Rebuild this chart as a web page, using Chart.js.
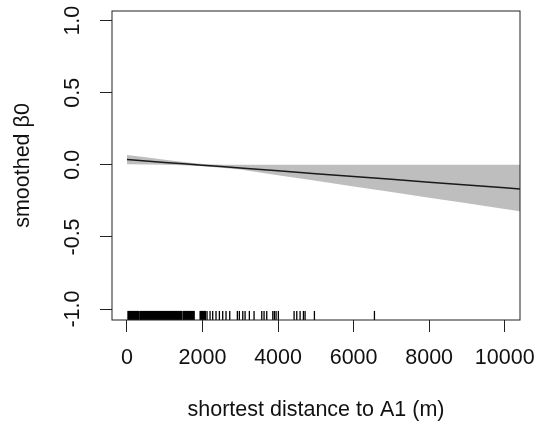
<!DOCTYPE html>
<html lang="en">
<head>
<meta charset="UTF-8">
<title>smoothed β0 by distance to A1</title>
<style>
    body { margin: 0; background: white; }
    #wrap { width: 536px; height: 427px; position: relative; }
</style>
<script src="https://cdn.jsdelivr.net/npm/chart.js"></script>
</head>
<body>
<div id="wrap"><canvas id="betaPlot"></canvas></div>
<script>
// smoothed coefficient along distance, with its confidence band
var distGrid  = [0, 500, 1000, 1500, 2000, 2500, 3000, 4000, 5000, 6000, 7000, 8000, 9000, 10000, 10500];
var fitValue  = [0.037, 0.027, 0.017, 0.008, -0.002, -0.012, -0.022, -0.041, -0.061, -0.081, -0.100, -0.120, -0.139, -0.159, -0.169];
var bandUpper = [0.068, 0.052, 0.036, 0.020, 0.006, 0.000, 0.000, 0.000, 0.000, 0.000, 0.000, 0.000, 0.000, 0.000, 0.000];
var bandLower = [0.005, 0.003, 0.000, -0.003, -0.009, -0.020, -0.033, -0.072, -0.111, -0.150, -0.189, -0.228, -0.267, -0.306, -0.326];

// observed distances, drawn as a rug along the bottom
var rugDist = [
    35, 60, 85, 110, 135, 160, 185, 210, 235, 255, 280, 300,
    350, 375, 400, 425, 450, 475, 500, 525, 550, 575, 600, 625, 650, 675, 700,
    725, 750, 775, 800, 825, 850, 875, 900, 925, 950, 975, 1000, 1025, 1050,
    1075, 1100, 1125, 1150, 1175, 1200, 1225, 1250, 1275, 1300, 1325, 1350,
    1375, 1400, 1420, 1440,
    1495, 1520, 1545, 1570, 1595, 1620, 1645, 1670, 1695, 1720, 1745, 1770,
    1945, 1970, 1995, 2020, 2045, 2066,
    2119, 2199, 2269, 2357, 2446, 2534, 2622, 2720,
    2922, 2975, 3065, 3126, 3240, 3364,
    3568, 3629, 3700, 3860, 3902, 3947, 4008,
    4424, 4495, 4583, 4671, 4715, 4962, 6551
];
var rugLevel = -1.045;

var xTicks = [0, 2000, 4000, 6000, 8000, 10000];
var yTicks = [-1, -0.5, 0, 0.5, 1];

function pairs(xs, ys) {
    return xs.map(function (x, i) { return { x: x, y: ys[i] }; });
}

var fontFamily = "'Liberation Sans', Arial, sans-serif";

// frame around the plotting region
var plotBox = {
    id: 'plotBox',
    afterDatasetsDraw: function (chart) {
        var a = chart.chartArea, ctx = chart.ctx;
        ctx.save();
        ctx.strokeStyle = '#222';
        ctx.lineWidth = 1;
        ctx.strokeRect(a.left, a.top, a.right - a.left, a.bottom - a.top);
        ctx.restore();
    }
};

new Chart(document.getElementById('betaPlot'), {
    type: 'line',
    data: {
        datasets: [
            {
                label: 'fit',
                data: pairs(distGrid, fitValue),
                borderColor: '#1a1a1a',
                borderWidth: 1.5,
                pointRadius: 0,
                fill: false
            },
            {
                label: 'rug',
                data: rugDist.map(function (d) { return { x: d, y: rugLevel }; }),
                showLine: false,
                pointStyle: 'line',
                rotation: 90,
                pointRadius: 4.6,
                // packed ticks are drawn a bit wider so they merge into a solid block
                pointBorderWidth: function (ctx) {
                    var d = rugDist[ctx.dataIndex];
                    return d < 2100 ? 2 : 1.3;
                },
                pointBorderColor: '#000',
                borderWidth: 0
            },
            {
                label: 'upper',
                data: pairs(distGrid, bandUpper),
                borderWidth: 0,
                pointRadius: 0,
                backgroundColor: '#bebebe',
                fill: '+1'
            },
            {
                label: 'lower',
                data: pairs(distGrid, bandLower),
                borderWidth: 0,
                pointRadius: 0,
                fill: false
            }
        ]
    },
    options: {
        responsive: true,
        maintainAspectRatio: false,
        animation: false,
        layout: { padding: { left: 0, top: 11, right: 16, bottom: 0 } },
        plugins: {
            legend: { display: false },
            tooltip: { enabled: false }
        },
        scales: {
            x: {
                type: 'linear',
                min: -397,
                max: 10405,
                afterBuildTicks: function (scale) {
                    scale.ticks = xTicks.map(function (v) { return { value: v }; });
                },
                afterFit: function (scale) {
                    scale.height = 107;
                    scale.paddingLeft = 0;
                    scale.paddingRight = 0;
                },
                border: { display: false },
                grid: { drawOnChartArea: false, drawTicks: true, tickLength: 12, color: '#222', lineWidth: 1 },
                ticks: {
                    autoSkip: false,
                    maxRotation: 0,
                    minRotation: 0,
                    padding: 13,
                    color: '#111',
                    font: { family: fontFamily, size: 21.5 },
                    callback: function (v) { return String(v); }
                },
                title: {
                    display: true,
                    text: 'shortest distance to A1 (m)',
                    color: '#111',
                    font: { family: fontFamily, size: 21.5 },
                    padding: { top: 0, bottom: 4 }
                }
            },
            y: {
                min: -1.076,
                max: 1.067,
                afterBuildTicks: function (scale) {
                    scale.ticks = yTicks.map(function (v) { return { value: v }; });
                },
                afterFit: function (scale) {
                    scale.width = 112;
                    scale.paddingTop = 0;
                    scale.paddingBottom = 0;
                },
                border: { display: false },
                grid: { drawOnChartArea: false, drawTicks: true, tickLength: 12, color: '#222', lineWidth: 1 },
                ticks: {
                    minRotation: 90,
                    maxRotation: 90,
                    crossAlign: 'center',
                    padding: 8,
                    color: '#111',
                    font: { family: fontFamily, size: 21.5 },
                    callback: function (v) { return v.toFixed(1); }
                },
                title: {
                    display: true,
                    text: 'smoothed β0',
                    color: '#111',
                    font: { family: fontFamily, size: 21.5 },
                    padding: { top: 10, bottom: 0 }
                }
            }
        }
    },
    plugins: [plotBox]
});
</script>
</body>
</html>
